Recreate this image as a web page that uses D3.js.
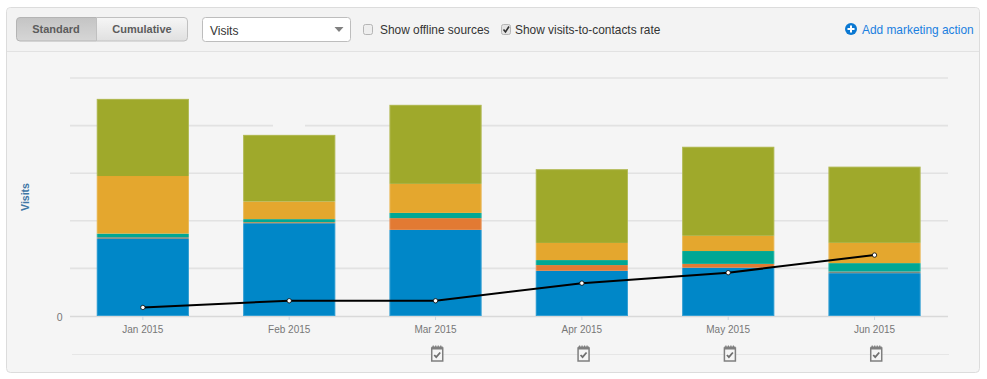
<!DOCTYPE html>
<html><head><meta charset="utf-8">
<script src="https://cdn.jsdelivr.net/npm/d3@7"></script>
<style>html,body{margin:0;padding:0;background:#fff}svg{display:block}text{font-family:"Liberation Sans",Arial,sans-serif}</style>
</head><body><svg id="c" width="987" height="379"></svg>
<script>
const months=["Jan 2015","Feb 2015","Mar 2015","Apr 2015","May 2015","Jun 2015"];
const seriesNames=["blue","red","teal","yellow","olive"];
const blue=[162,195,181,95,101.5,90];
const red=[3.6,2,24.6,12,8,3.5];
const teal=[7.5,6.5,11,10.5,27,17.6];
const yellow=[121,37,61,36,32,42.6];
const olive=[162,140,166,155,187,160];
const rate=[0.18,0.32,0.32,0.69,0.91,1.28];
const yTicks=[0,100,200,300,400,500];
const actionMonths=["Mar 2015","Apr 2015","May 2015","Jun 2015"];
const colors={blue:"#0087c8",red:"#e27a33",teal:"#00a794",yellow:"#e4a72e",olive:"#9fa92b"};
const thinGrey=["Jan 2015","Jun 2015"];

const svg=d3.select("#c");
// panel
svg.append("rect").attr("x",6.5).attr("y",7.5).attr("width",973).attr("height",365).attr("rx",4).attr("fill","#f5f5f5").attr("stroke","#dcdcdc");
svg.append("path").attr("d","M7,51V12a4,4 0 0 1 4,-4H975a4,4 0 0 1 4,4V51Z").attr("fill","#f3f3f3");
svg.append("line").attr("x1",7).attr("x2",979).attr("y1",51.5).attr("y2",51.5).attr("stroke","#e2e2e2");

const defs=svg.append("defs");
const g1=defs.append("linearGradient").attr("id","btnOn").attr("x2",0).attr("y2",1);
g1.append("stop").attr("offset",0).attr("stop-color","#c4c4c4");g1.append("stop").attr("offset",1).attr("stop-color","#d6d6d6");
const g2=defs.append("linearGradient").attr("id","btnOff").attr("x2",0).attr("y2",1);
g2.append("stop").attr("offset",0).attr("stop-color","#f6f6f6");g2.append("stop").attr("offset",1).attr("stop-color","#e0e0e0");

// toggle buttons
svg.append("path").attr("d","M96.5,17.5H20a3.5,3.5 0 0 0 -3.5,3.5V37.5a3.5,3.5 0 0 0 3.5,3.5H96.5Z").attr("fill","url(#btnOn)").attr("stroke","#b4b4b4");
svg.append("path").attr("d","M96.5,17.5H184a3.5,3.5 0 0 1 3.5,3.5V37.5a3.5,3.5 0 0 1 -3.5,3.5H96.5Z").attr("fill","url(#btnOff)").attr("stroke","#c0c0c0");
svg.append("text").attr("x",56).attr("y",33).attr("text-anchor","middle").attr("font-size",11).attr("font-weight","bold").attr("fill","#5c5c5c").text("Standard");
svg.append("text").attr("x",142).attr("y",33).attr("text-anchor","middle").attr("font-size",11).attr("font-weight","bold").attr("fill","#5c5c5c").text("Cumulative");
// select
svg.append("rect").attr("x",202.5).attr("y",17.5).attr("width",148).attr("height",24).attr("rx",3).attr("fill","#fff").attr("stroke","#bdbdbd");
svg.append("text").attr("x",210).attr("y",34.5).attr("font-size",12).attr("fill","#333").text("Visits");
svg.append("path").attr("d","M334.5,27H343.5L339,32Z").attr("fill","#808080");
// checkboxes
svg.append("rect").attr("x",363.5).attr("y",24.5).attr("width",9).attr("height",10).attr("rx",2).attr("fill","#eee").attr("stroke","#b5b5b5");
svg.append("text").attr("x",380).attr("y",33.5).attr("font-size",11.9).attr("fill","#333").text("Show offline sources");
svg.append("rect").attr("x",501.5).attr("y",24.5).attr("width",9).attr("height",10).attr("rx",2).attr("fill","#e4e4e4").attr("stroke","#b5b5b5");
svg.append("path").attr("d","M503.5,29.5L505.5,32L509,26.5").attr("fill","none").attr("stroke","#333").attr("stroke-width",1.6);
svg.append("text").attr("x",515).attr("y",33.5).attr("font-size",11.9).attr("fill","#333").text("Show visits-to-contacts rate");
// add action
svg.append("circle").attr("cx",851).attr("cy",29).attr("r",6).attr("fill","#0a78d2");
svg.append("path").attr("d","M847.5,29H854.5M851,25.5V32.5").attr("stroke","#fff").attr("stroke-width",2);
svg.append("text").attr("x",862).attr("y",33.5).attr("font-size",11.9).attr("fill","#1a7fe0").text("Add marketing action");

// scales
const x=d3.scaleBand().domain(months).range([69.7,947.7]).paddingInner(0.37).paddingOuter(0.185);
const y=d3.scaleLinear().domain([0,500]).range([316,78]);
const yRate=d3.scaleLinear().domain([0,5]).range([316,78]);

// grid
svg.append("g").selectAll("line").data(yTicks.filter(d=>d>0)).join("line")
 .attr("x1",70).attr("x2",948).attr("y1",d=>y(d)).attr("y2",d=>y(d)).attr("stroke","#e2e2e2").attr("stroke-width",1.6);
// small break in the 400 gridline, as in the reference
svg.append("line").attr("x1",273).attr("x2",305).attr("y1",y(yTicks[4])).attr("y2",y(yTicks[4])).attr("stroke","#f5f5f5").attr("stroke-width",3);
// axis
const ax=svg.append("g").attr("transform","translate(0,316)").call(d3.axisBottom(x).tickSize(4).tickPadding(5));
ax.select(".domain").attr("d","M70,0.5H948").attr("stroke","#d9d9d9").attr("stroke-width",1.6);
ax.selectAll(".tick line").attr("stroke","#ccd6e0");
ax.selectAll(".tick text").attr("font-size",10).attr("fill","#777").attr("font-family",'"Liberation Sans",Arial,sans-serif').attr("dy","0.75em");
svg.append("text").attr("x",62.5).attr("y",321).attr("text-anchor","end").attr("font-size",10.5).attr("fill","#777").text(yTicks[0]);
svg.append("text").attr("transform","translate(29,197) rotate(-90)").attr("text-anchor","middle").attr("font-size",10.5).attr("font-weight","bold").attr("fill","#3f77a5").text("Visits");

// stacked bars
const table=months.map((m,i)=>({month:m,blue:blue[i],red:red[i],teal:teal[i],yellow:yellow[i],olive:olive[i]}));
const stacked=d3.stack().keys(seriesNames)(table);
svg.append("g").selectAll("g").data(stacked).join("g")
 .attr("fill",d=>colors[d.key])
 .selectAll("rect").data(d=>d.map(p=>Object.assign(p,{key:d.key}))).join("rect")
 .attr("x",d=>x(d.data.month)).attr("width",x.bandwidth())
 .attr("y",d=>y(d[1])).attr("height",d=>y(d[0])-y(d[1]))
 .attr("fill",d=>d.key==="red"&&thinGrey.includes(d.data.month)?"#7d8a80":colors[d.key]);
// pale outline of each stack
svg.append("g").selectAll("rect").data(stacked[stacked.length-1]).join("rect")
 .attr("x",d=>x(d.data.month)+0.5).attr("width",x.bandwidth()-1)
 .attr("y",d=>y(d[1])+0.5).attr("height",d=>y(0)-y(d[1])-1)
 .attr("fill","none").attr("stroke","#fff").attr("stroke-opacity",0.2);

// rate line
const cx=m=>x(m)+x.bandwidth()/2;
const line=d3.line().x((d,i)=>cx(months[i])).y(d=>yRate(d));
svg.append("path").datum(rate).attr("d",line).attr("fill","none").attr("stroke","#000").attr("stroke-width",2);
svg.append("g").selectAll("circle").data(rate).join("circle")
 .attr("cx",(d,i)=>cx(months[i])).attr("cy",d=>yRate(d)).attr("r",2.2).attr("fill","#fff").attr("stroke","#000").attr("stroke-width",0.8);

// action row
svg.append("line").attr("x1",72).attr("x2",949).attr("y1",354.5).attr("y2",354.5).attr("stroke","#e6e6e6").attr("stroke-width",1.2);
const ic=svg.append("g").selectAll("g").data(actionMonths).join("g").attr("transform",d=>`translate(${cx(d)+1.7},354)`);
ic.append("rect").attr("x",-5.5).attr("y",-6).attr("width",11).attr("height",13).attr("fill","#f5f5f5").attr("stroke","#7f7f7f").attr("stroke-width",1.5);
ic.append("rect").attr("x",-5.5).attr("y",-7.5).attr("width",11).attr("height",3).attr("fill","#7f7f7f");
ic.append("path").attr("d","M-4,-8.5V-7M-1.5,-8.5V-7M1,-8.5V-7M3.5,-8.5V-7").attr("stroke","#7f7f7f").attr("stroke-width",1.2);
ic.append("path").attr("d","M-3,1L-1,3.2L3,-1.5").attr("fill","none").attr("stroke","#6f6f6f").attr("stroke-width",1.8);
</script></body></html>
